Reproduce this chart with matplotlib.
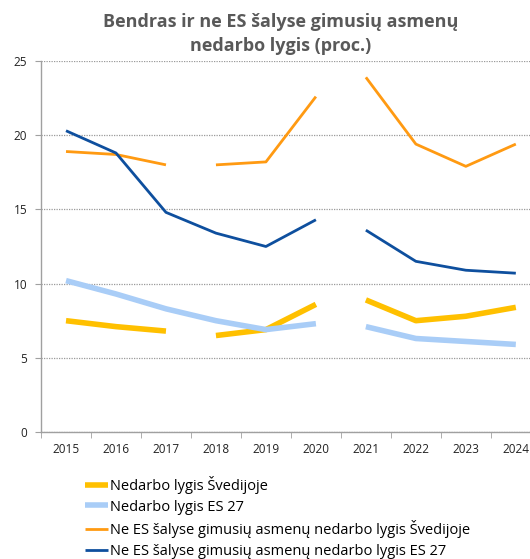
import numpy as np
import matplotlib
matplotlib.use('Agg')
import matplotlib.pyplot as plt

years = ["2015", "2016", "2017", "2018", "2019", "2020", "2021", "2022", "2023", "2024"]

se_total = [7.5, 7.1, 6.8, 6.5, 6.9, 8.6, 8.9, 7.5, 7.8, 8.4]
eu_total = [10.2, 9.3, 8.3, 7.5, 6.9, 7.3, 7.1, 6.3, 6.1, 5.9]
se_non_eu = [18.9, 18.7, 18.0, 18.0, 18.2, 22.6, 23.9, 19.4, 17.9, 19.4]
eu_non_eu = [20.3, 18.8, 14.8, 13.4, 12.5, 14.3, 13.6, 11.5, 10.9, 10.7]

# index after which each series is broken (series break in methodology)
breaks = [[2, 5], [5], [2, 5], [5]]

labels = [
    "Nedarbo lygis Švedijoje",
    "Nedarbo lygis ES 27",
    "Ne ES šalyse gimusių asmenų nedarbo lygis Švedijoje",
    "Ne ES šalyse gimusių asmenų nedarbo lygis ES 27",
]
colors = ["#FFC000", "#A9CDF7", "#FF9A12", "#0E4F9E"]
widths = [4.0, 4.0, 2.0, 2.0]


def with_gaps(vals, brk):
    xs, ys = [], []
    for i, v in enumerate(vals):
        xs.append(i)
        ys.append(v)
        if i in brk:
            xs.append(i + 0.5)
            ys.append(np.nan)
    return xs, ys


plt.rcParams['font.family'] = ['Open Sans', 'DejaVu Sans']

fig = plt.figure(figsize=(5.3, 5.59), dpi=100)
ax = fig.add_axes([0.0774, 0.2272, 0.943, 0.6637])

handles = []
for series, brk, c, w, lab in zip([se_total, eu_total, se_non_eu, eu_non_eu],
                                  breaks, colors, widths, labels):
    xs, ys = with_gaps(series, brk)
    h, = ax.plot(xs, ys, color=c, lw=w, solid_capstyle='butt', label=lab)
    handles.append(h)

ax.set_xlim(-0.5, 9.5)
ax.set_ylim(0, 25)
ax.set_yticks(np.arange(0, 26, 5))
ax.set_xticks(range(len(years)))
ax.set_xticklabels(years)
ax.set_xticks(np.arange(-0.5, 10, 1), minor=True)
ax.tick_params(axis='x', which='major', length=0, pad=8, labelsize=8.5, labelcolor='#222222')
ax.tick_params(axis='x', which='minor', length=4, color='#A0A0A0', direction='out')
ax.tick_params(axis='y', length=4, color='#A0A0A0', labelsize=8.5, labelcolor='#222222', pad=6)

ax.grid(axis='y', linestyle=(0, (1, 1)), color='#9A9A9A', lw=0.9)
ax.set_axisbelow(True)
for s in ['top', 'right']:
    ax.spines[s].set_visible(False)
for s in ['left', 'bottom']:
    ax.spines[s].set_color('#A0A0A0')
    ax.spines[s].set_linewidth(1.0)

fig.text(0.53, 0.939, "Bendras ir ne ES šalyse gimusių asmenų\nnedarbo lygis (proc.)",
         ha='center', va='center', fontsize=13, fontweight='bold', color='#595959',
         linespacing=1.4)

fig.legend(handles=handles, loc='upper left', bbox_to_anchor=(0.16, 0.149),
           frameon=False, fontsize=10.5, handlelength=1.6, handletextpad=0.1,
           labelspacing=0.4, borderaxespad=0, borderpad=0)

fig.savefig("out.png", dpi=100)
